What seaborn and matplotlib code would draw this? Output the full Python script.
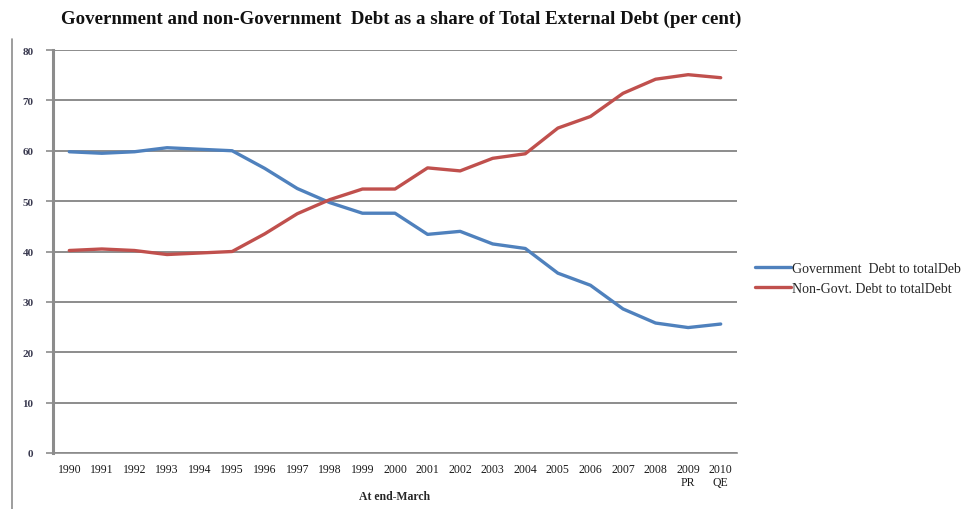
import numpy as np
import pandas as pd
import matplotlib
matplotlib.use("Agg")
import matplotlib.pyplot as plt
from matplotlib.lines import Line2D
import seaborn as sns

years = ["1990", "1991", "1992", "1993", "1994", "1995", "1996", "1997", "1998", "1999",
         "2000", "2001", "2002", "2003", "2004", "2005", "2006", "2007", "2008", "2009\nPR", "2010\nQE"]
gov_debt = [59.8, 59.5, 59.8, 60.6, 60.3, 60.0, 56.5, 52.5, 49.7, 47.6,
            47.6, 43.4, 44.0, 41.5, 40.6, 35.7, 33.3, 28.6, 25.8, 24.9, 25.6]
nongov_debt = [40.2, 40.5, 40.2, 39.4, 39.7, 40.0, 43.5, 47.5, 50.3, 52.4,
               52.4, 56.6, 56.0, 58.5, 59.4, 64.5, 66.8, 71.4, 74.2, 75.1, 74.5]
series_names = ["Government  Debt to totalDebt", "Non-Govt. Debt to totalDebt"]
y_ticks = [0, 10, 20, 30, 40, 50, 60, 70, 80]

pos = list(range(len(years)))
df = pd.DataFrame({
    "pos": pos * 2,
    "value": gov_debt + nongov_debt,
    "series": [series_names[0]] * len(pos) + [series_names[1]] * len(pos),
})

sns.set_style("white")
plt.rcParams["font.family"] = ["Liberation Serif", "DejaVu Serif"]

fig = plt.figure(figsize=(9.64, 5.10), dpi=100)
ax = fig.add_axes([53 / 964, 56 / 510, 684 / 964, 403 / 510])

palette = {series_names[0]: "#4F81BD", series_names[1]: "#C0504D"}
sns.lineplot(data=df, x="pos", y="value", hue="series", palette=palette,
             linewidth=2.4, ax=ax, legend=False, sort=False)

ax.set_xlim(-0.5, len(years) - 0.5)
ax.set_ylim(0, 80)
ax.set_yticks(y_ticks)
ax.set_yticklabels([str(t) for t in y_ticks], fontsize=8, fontweight="bold", color="#3a3a50")
ax.yaxis.grid(True, color="#8c8c8c", linewidth=1.4)
ax.set_axisbelow(True)

ax.set_xticks(pos)
ax.set_xticklabels(years, fontsize=8.5, color="#1a1a1a", linespacing=1.1)
ax.set_xticks(np.arange(-0.5, len(years)), minor=True)
ax.tick_params(axis="x", which="major", length=0, pad=7)
ax.tick_params(axis="x", which="minor", length=3, width=1.2, color="#8c8c8c", direction="out")
ax.tick_params(axis="y", which="major", length=5, width=1.2, color="#8c8c8c", direction="out", pad=9, left=True)

for s in ["top", "right"]:
    ax.spines[s].set_visible(False)
ax.spines["left"].set_color("#8c8c8c")
ax.spines["left"].set_linewidth(2.2)
ax.spines["bottom"].set_color("#8c8c8c")
ax.spines["bottom"].set_linewidth(1.2)

ax.set_xlabel("At end-March", fontsize=8.5, fontweight="bold", va="center")
ax.xaxis.set_label_coords(0.5, -(497 - 454) / 403)
ax.set_ylabel("")

fig.text(0.416, 0.963, "Government and non-Government  Debt as a share of Total External Debt (per cent)",
         ha="center", va="center", fontsize=13.6, fontweight="bold", color="#111111")

handles = [Line2D([], [], color=palette[n], linewidth=2.4) for n in series_names]
fig.legend(handles, ["Government  Debt to totalDeb", "Non-Govt. Debt to totalDebt"],
           loc="upper left", bbox_to_anchor=(752 / 964, 1 - 260 / 510), frameon=False,
           fontsize=10, handlelength=2.6, handletextpad=0.1, labelspacing=0.5,
           borderaxespad=0, borderpad=0.2)

fig.add_artist(Line2D([12 / 964, 12 / 964], [0, 1 - 40 / 510], color="#8c8c8c", linewidth=1.2,
                      transform=fig.transFigure))

fig.savefig("out.png", dpi=100, facecolor="white")
